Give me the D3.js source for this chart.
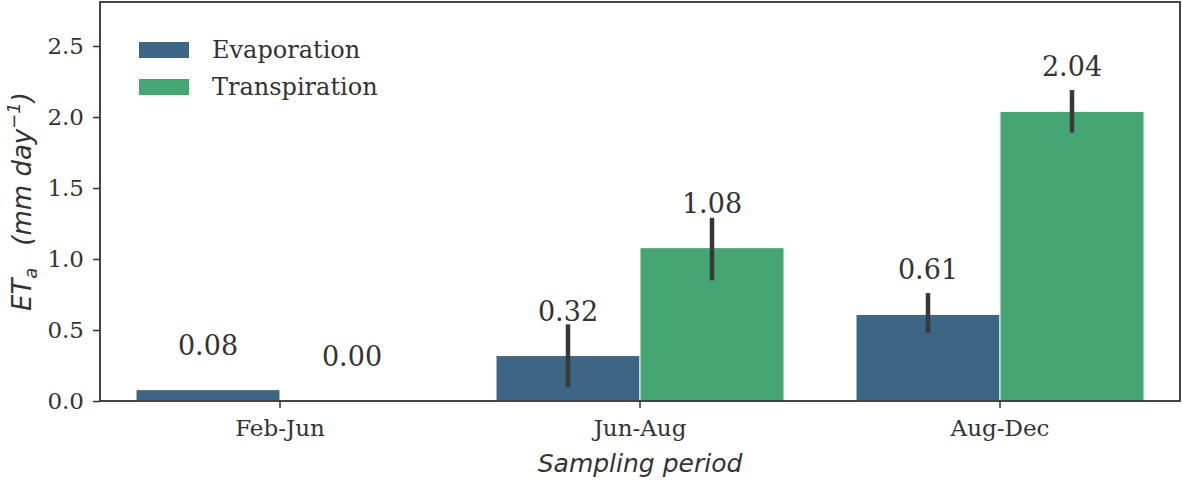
<!DOCTYPE html>
<html>
<head>
<meta charset="utf-8">
<script src="https://cdn.jsdelivr.net/npm/d3@7"></script>
<style>
  body { margin: 0; background: #fff; }
  svg { display: block; }
  .tick text { font-family: "DejaVu Serif", serif; fill: #333; }
</style>
</head>
<body>
<div id="chart"></div>
<script>
// 데이터
const periods = ['Feb-Jun', 'Jun-Aug', 'Aug-Dec'];
const seriesNames = ['Evaporation', 'Transpiration'];
const evaporation = [0.08, 0.32, 0.61];
const transpiration = [0.00, 1.08, 2.04];
// 오차막대 (하한, 상한)
const evapErrLow = [0.08, 0.10, 0.48];
const evapErrHigh = [0.08, 0.54, 0.76];
const transErrLow = [0.00, 0.85, 1.89];
const transErrHigh = [0.00, 1.29, 2.19];
const yTicks = [0, 0.5, 1.0, 1.5, 2.0, 2.5];
const colors = ['#3d6584', '#45a674'];

const width = 1182, height = 482;
const margin = { top: 2, right: 2, bottom: 81, left: 100 };
const innerW = 1180 - margin.left;
const innerH = 401 - margin.top;

const svg = d3.select('#chart').append('svg')
    .attr('width', width)
    .attr('height', height);

const g = svg.append('g').attr('transform', `translate(${margin.left},${margin.top})`);

const x = d3.scaleBand().domain(periods).range([0, innerW]).paddingInner(0).paddingOuter(0);
const x1 = d3.scaleBand().domain(seriesNames).range([x.bandwidth() * 0.1, x.bandwidth() * 0.9]);
const y = d3.scaleLinear().domain([0, 2.81]).range([innerH, 0]);

const rows = periods.map((p, i) => ({
    period: p,
    values: [
        { name: seriesNames[0], v: evaporation[i], lo: evapErrLow[i], hi: evapErrHigh[i], c: colors[0] },
        { name: seriesNames[1], v: transpiration[i], lo: transErrLow[i], hi: transErrHigh[i], c: colors[1] }
    ]
}));

const groups = g.selectAll('.grp')
    .data(rows)
    .join('g')
    .attr('transform', d => `translate(${x(d.period)},0)`);

// 막대
groups.selectAll('rect')
    .data(d => d.values)
    .join('rect')
    .attr('x', d => x1(d.name))
    .attr('width', x1.bandwidth())
    .attr('y', d => y(d.v))
    .attr('height', d => innerH - y(d.v))
    .attr('fill', d => d.c)
    .attr('stroke', '#fff')
    .attr('stroke-width', 1);

// 오차막대
groups.selectAll('line.err')
    .data(d => d.values.filter(v => v.hi > v.lo))
    .join('line')
    .attr('class', 'err')
    .attr('x1', d => x1(d.name) + x1.bandwidth() / 2)
    .attr('x2', d => x1(d.name) + x1.bandwidth() / 2)
    .attr('y1', d => y(d.lo))
    .attr('y2', d => y(d.hi))
    .attr('stroke', '#3a3a3a')
    .attr('stroke-width', 4.5);

// 값 라벨
groups.selectAll('text.val')
    .data(d => d.values)
    .join('text')
    .attr('class', 'val')
    .attr('x', d => x1(d.name) + x1.bandwidth() / 2)
    .attr('y', d => y(d.v) - 35)
    .attr('text-anchor', 'middle')
    .attr('font-family', 'DejaVu Serif, serif')
    .attr('font-size', 27)
    .attr('fill', '#333')
    .text(d => d.v.toFixed(2));

// 축
const yAxis = g.append('g')
    .call(d3.axisLeft(y).tickValues(yTicks).tickFormat(d3.format('.1f')).tickSize(7).tickPadding(9));
yAxis.selectAll('text').attr('font-size', 23);
yAxis.select('.domain').remove();
yAxis.selectAll('.tick line').attr('stroke', '#333').attr('stroke-width', 1.5);

const xAxis = g.append('g')
    .attr('transform', `translate(0,${innerH})`)
    .call(d3.axisBottom(x).tickSize(7).tickPadding(12));
xAxis.selectAll('text').attr('font-size', 23);
xAxis.select('.domain').remove();
xAxis.selectAll('.tick line').attr('stroke', '#333').attr('stroke-width', 1.5);

// 테두리
g.append('rect')
    .attr('x', 0).attr('y', 0)
    .attr('width', innerW).attr('height', innerH)
    .attr('fill', 'none')
    .attr('stroke', '#333')
    .attr('stroke-width', 1.8);

// 축 제목
svg.append('text')
    .attr('x', margin.left + innerW / 2)
    .attr('y', 472)
    .attr('text-anchor', 'middle')
    .attr('font-family', 'DejaVu Sans, sans-serif')
    .attr('font-style', 'italic')
    .attr('font-size', 25)
    .attr('fill', '#333')
    .text('Sampling period');

const yl = svg.append('text')
    .attr('transform', `translate(31,${margin.top + innerH / 2}) rotate(-90)`)
    .attr('text-anchor', 'middle')
    .attr('font-family', 'DejaVu Sans, sans-serif')
    .attr('font-style', 'italic')
    .attr('font-size', 26)
    .attr('fill', '#333');
yl.append('tspan').text('ET');
yl.append('tspan').attr('font-size', 18).attr('dy', 6).text('a');
yl.append('tspan').attr('dy', -6).attr('dx', 22).text('(mm day');
yl.append('tspan').attr('font-size', 18).attr('dy', -11).text('−1');
yl.append('tspan').attr('dy', 11).text(')');

// 범례
const legend = g.append('g').attr('transform', 'translate(39,40)');
legend.selectAll('g')
    .data(seriesNames)
    .join('g')
    .attr('transform', (d, i) => `translate(0,${i * 37})`)
    .each(function(d, i) {
        const row = d3.select(this);
        row.append('rect')
            .attr('x', 0).attr('y', 0)
            .attr('width', 50).attr('height', 16)
            .attr('fill', colors[i]);
        row.append('text')
            .attr('x', 73).attr('y', 16)
            .attr('font-family', 'DejaVu Serif, serif')
            .attr('font-size', 24)
            .attr('fill', '#333')
            .text(d);
    });
</script>
</body>
</html>
